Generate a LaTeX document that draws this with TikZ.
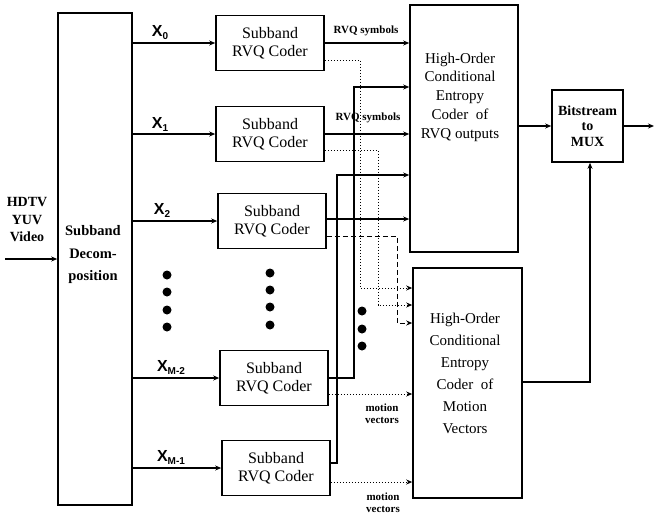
\documentclass[tikz,border=0pt]{standalone}
\usepackage{fontspec}
\setmainfont{Liberation Serif}
\newfontfamily\xfont{Liberation Sans}
\usetikzlibrary{arrows.meta}
\begin{document}
\begin{tikzpicture}[x=1pt,y=-1pt,
  box/.style={draw,line width=1.6pt,inner sep=0pt},
  coder/.style={box,minimum width=108pt,minimum height=55pt,align=center,font=\fontsize{16}{18}\selectfont},
  txt/.style={align=center,inner sep=0pt},
  wire/.style={line width=1.5pt},
  dwire/.style={line width=1pt,dash pattern=on 1.5pt off 1.5pt},
  dashwire/.style={line width=1pt,dash pattern=on 5pt off 3pt},
  arr/.style={-{Stealth[length=6pt,width=5pt]}},
  xlab/.style={inner sep=0pt,font=\xfont\bfseries\fontsize{16}{16}\selectfont},
  small/.style={align=center,inner sep=0pt,font=\bfseries\fontsize{11}{12}\selectfont},
  dot/.style={fill=black}
]
\useasboundingbox (0,0) rectangle (655,514);
% input
\node[txt,font=\bfseries\fontsize{14}{17.5}\selectfont] (hdtv) at (27,220) {HDTV\\YUV\\Video};
\node[box,minimum width=74pt,minimum height=492pt] (dec) at (95,259) {};
\node[txt,font=\bfseries\fontsize{14.5}{22.5}\selectfont] (dectext) at (93,255) {Subband\\Decom-\\position};
\coordinate (inp) at (5,259);
\draw[wire,arr] (inp) -- (inp -| dec.west);
% coders
\node[coder] (c0) at (270,43) {Subband\\RVQ Coder};
\node[coder] (c1) at (270,134) {Subband\\RVQ Coder};
\node[coder] (c2) at (272,221) {Subband\\RVQ Coder};
\node[coder] (cM2) at (274,378) {Subband\\RVQ Coder};
\node[coder] (cM1) at (276,468) {Subband\\RVQ Coder};
\foreach \c in {c0,c1,c2,cM2,cM1}{
  \draw[wire,arr] (dec.east |- \c.west) -- (\c.west);
}
\node[xlab] (x0) at (160,33) {X\raisebox{-3pt}{\fontsize{10}{10}\selectfont 0}};
\node[xlab] (x1) at (160,124) {X\raisebox{-3pt}{\fontsize{10}{10}\selectfont 1}};
\node[xlab] (x2) at (162,210) {X\raisebox{-3pt}{\fontsize{10}{10}\selectfont 2}};
\node[xlab] (xm2) at (171,367) {X\raisebox{-3pt}{\fontsize{10}{10}\selectfont M-2}};
\node[xlab] (xm1) at (171,457) {X\raisebox{-3pt}{\fontsize{10}{10}\selectfont M-1}};
% dots
\foreach \y in {275,292,310,327}{\fill[dot] (167,\y) circle (4.5pt);}
\foreach \y in {273,290,307,325}{\fill[dot] (270,\y) circle (4.5pt);}
\foreach \y in {311,329,346}{\fill[dot] (362,\y) circle (4.5pt);}
% entropy coders
\node[box,minimum width=108pt,minimum height=247pt] (rvq) at (464,128.5) {};
\node[txt,font=\fontsize{15}{18.8}\selectfont] (rvqtext) at (460,97) {High-Order\\Conditional\\Entropy\\Coder\ \ of\\RVQ outputs};
\node[box,minimum width=109pt,minimum height=230pt] (mot) at (467.5,383) {};
\node[txt,font=\fontsize{15}{22}\selectfont] (mottext) at (465,373) {High-Order\\Conditional\\Entropy\\Coder\ \ of\\Motion\\Vectors};
\node[box,minimum width=71pt,minimum height=72pt,align=center,font=\bfseries\fontsize{14}{15.5}\selectfont] (bits) at (587.5,126) {Bitstream\\to\\MUX};
% solid outputs to RVQ entropy coder
\draw[wire,arr] (c0.east) -- (c0.east -| rvq.west);
\node[small] (l0) at (366,31) {RVQ symbols};
\draw[wire,arr] (c1.east) -- (c1.east -| rvq.west);
\node[small] (l1) at (368,118) {RVQ symbols};
\coordinate (c2o) at ([yshift=2pt]c2.east);
\draw[wire,arr] (c2o) -- (c2o -| rvq.west);
\coordinate (m2v) at (354,87);
\draw[wire,arr] (cM2.east) -| (m2v) -- (m2v -| rvq.west);
\coordinate (m1v) at (337,175);
\draw[wire,arr] ([yshift=5pt]cM1.east) -| (m1v) -- (m1v -| rvq.west);
% dotted outputs to motion coder
\coordinate (d0) at (360,288);
\draw[dwire,arr] ([yshift=-17pt]c0.east) -| (d0) -- (d0 -| mot.west);
\coordinate (d1) at (378,305);
\draw[dwire,arr] ([yshift=-16pt]c1.east) -| (d1) -- (d1 -| mot.west);
\coordinate (d2) at (397,323);
\draw[dashwire,arr] ([yshift=-15pt]c2.east) -| (d2) -- (d2 -| mot.west);
\coordinate (dm2) at ([yshift=-16pt]cM2.east);
\draw[dwire,arr] (dm2) -- (dm2 -| mot.west);
\node[small] (lm2) at (382,414) {motion\\vectors};
\coordinate (dm1) at ([yshift=-14pt]cM1.east);
\draw[dwire,arr] (dm1) -- (dm1 -| mot.west);
\node[small] (lm1) at (383,503) {motion\\vectors};
% to bitstream
\draw[wire,arr] (bits.west -| rvq.east) -- (bits.west);
\coordinate (out) at (654,126);
\draw[wire,arr] (bits.east) -- (out);
\coordinate (mv) at (590,382);
\draw[wire,arr] (mot.east |- mv) -- (mv) -- (mv |- bits.south);
\end{tikzpicture}
\end{document}
